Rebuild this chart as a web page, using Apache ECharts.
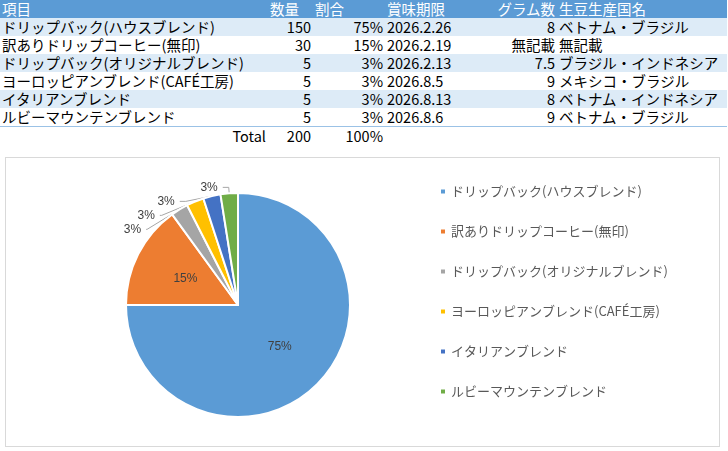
<!DOCTYPE html>
<html><head><meta charset="utf-8">
<script src="https://cdn.jsdelivr.net/npm/echarts@6/dist/echarts.min.js"></script>
<style>
body{margin:0;width:728px;height:451px;background:#fff;font-family:"Noto Sans CJK JP",sans-serif;overflow:hidden;position:relative}
table{border-collapse:collapse;position:absolute;left:0;top:0;width:727px;font-size:14.5px;color:#000;table-layout:fixed}
td{height:18px;padding:0 2px;line-height:18px;white-space:nowrap;overflow:hidden}
tr.h td{background:#5b9bd5;color:#fff}
tr.a td{background:#ddebf7}
tr.b td{background:#fff}
tr.d td{border-bottom:1px solid #9bc2e6}
.r{text-align:right}
#chart{position:absolute;left:5px;top:157px;width:715px;height:290px;border:1px solid #d9d9d9;box-sizing:border-box}
</style></head><body>
<table id="t"></table>
<div id="chart"></div>
<script>
const headers=["項目","数量","割合","賞味期限","グラム数","生豆生産国名"];
const items=["ドリップバック(ハウスブレンド)","訳ありドリップコーヒー(無印)","ドリップバック(オリジナルブレンド)","ヨーロッピアンブレンド(CAFÉ工房)","イタリアンブレンド","ルビーマウンテンブレンド"];
const qty=[150,30,5,5,5,5];
const pct=["75%","15%","3%","3%","3%","3%"];
const dates=["2026.2.26","2026.2.19","2026.2.13","2026.8.5","2026.8.13","2026.8.6"];
const grams=["8","無記載","7.5","9","8","9"];
const origin=["ベトナム・ブラジル","無記載","ブラジル・インドネシア","メキシコ・ブラジル","ベトナム・インドネシア","ベトナム・ブラジル"];
const colors=["#5b9bd5","#ed7d31","#a5a5a5","#ffc000","#4472c4","#70ad47"];
const widths=[268,45,72,100,72,170];
let html='<colgroup>'+widths.map(w=>'<col style="width:'+w+'px">').join('')+'</colgroup>';
html+='<tr class="h">'+headers.map((h,i)=>'<td'+(i==4?' class="r"':'')+'>'+h+'</td>').join('')+'</tr>';
items.forEach((it,i)=>{
 html+='<tr class="'+(i%2==0?'a':'b')+(i==5?' d':'')+'"><td>'+it+'</td><td class="r">'+qty[i]+'</td><td class="r">'+pct[i]+'</td><td>'+dates[i]+'</td><td class="r">'+grams[i]+'</td><td>'+origin[i]+'</td></tr>';
});
html+='<tr class="b"><td class="r">Total</td><td class="r">200</td><td class="r">100%</td><td></td><td></td><td></td></tr>';
document.getElementById('t').innerHTML=html;

const ch=echarts.init(document.getElementById('chart'));
ch.setOption({
 animation:false,
 color:colors,
 legend:{orient:'vertical',left:428,top:22,itemGap:27,itemWidth:6,itemHeight:6,icon:'rect',
  textStyle:{color:'#595959',fontSize:13,fontFamily:'Noto Sans CJK JP'},data:items},
 series:[{type:'pie',center:[232,147],radius:112,startAngle:90,
  itemStyle:{borderColor:'#fff',borderWidth:2},
  label:{formatter:p=>Math.round(p.percent)+'%',color:'#404040',fontSize:12},
  labelLine:{length:6,length2:6,lineStyle:{color:'#a6a6a6'}},
  data:items.map((n,i)=>{
   const d={name:n,value:qty[i]};
   if(i<2) d.label={position:'inside'};
   return d;})
 }]
});
</script></body></html>
